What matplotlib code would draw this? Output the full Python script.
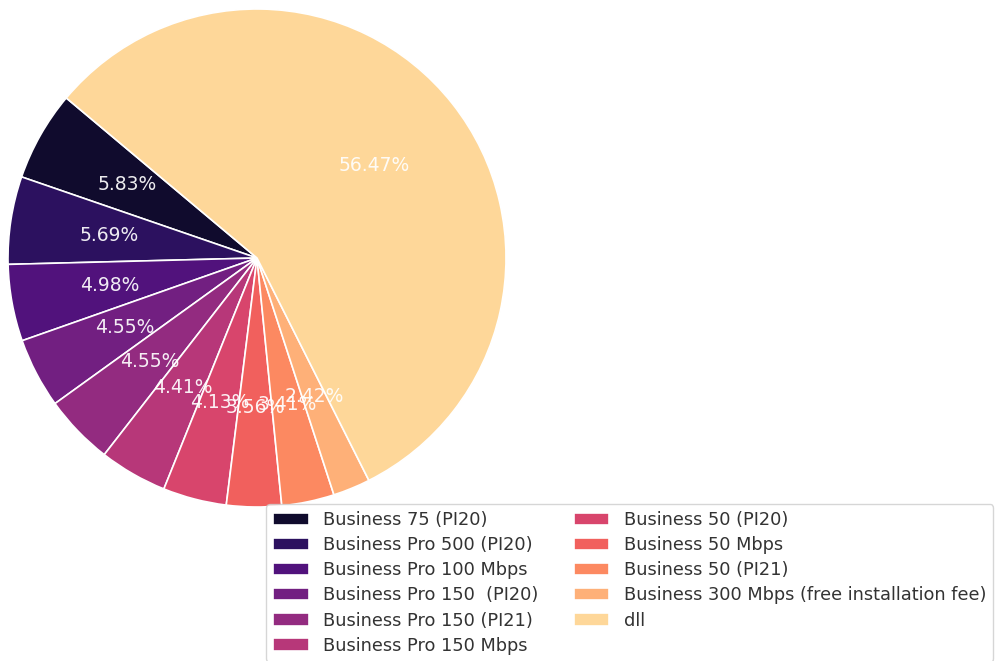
import matplotlib
matplotlib.use("Agg")
import matplotlib.pyplot as plt
import seaborn as sns

labels = ["Business 75 (PI20)", "Business Pro 500 (PI20)", "Business Pro 100 Mbps",
          "Business Pro 150  (PI20)", "Business Pro 150 (PI21)", "Business Pro 150 Mbps",
          "Business 50 (PI20)", "Business 50 Mbps", "Business 50 (PI21)",
          "Business 300 Mbps (free installation fee)", "dll"]
shares = [5.83, 5.69, 4.98, 4.55, 4.55, 4.41, 4.13, 3.56, 3.41, 2.42, 56.47]

colors = sns.color_palette("magma", len(shares))

fig = plt.figure(figsize=(10.02, 6.61), dpi=100)
ax = fig.add_axes([8 / 1002, (661 - 507) / 661, 498 / 1002, 498 / 661])
wedges, texts, autotexts = ax.pie(shares, colors=colors, autopct="%.2f%%", startangle=140,
                                  pctdistance=0.6, wedgeprops=dict(edgecolor="white", linewidth=1.2),
                                  textprops=dict(color="white", fontsize=13.5, alpha=0.92))
ax.set_xlim(-1, 1)
ax.set_ylim(-1, 1)
ax.set_aspect("equal")

fig.legend(wedges, labels, loc="upper left", bbox_to_anchor=(266 / 1002, 1 - 504 / 661),
           borderaxespad=0, ncol=2, fontsize=12.8, labelspacing=0.4, frameon=True,
           labelcolor="#333333")

fig.savefig("out.png", dpi=100)
